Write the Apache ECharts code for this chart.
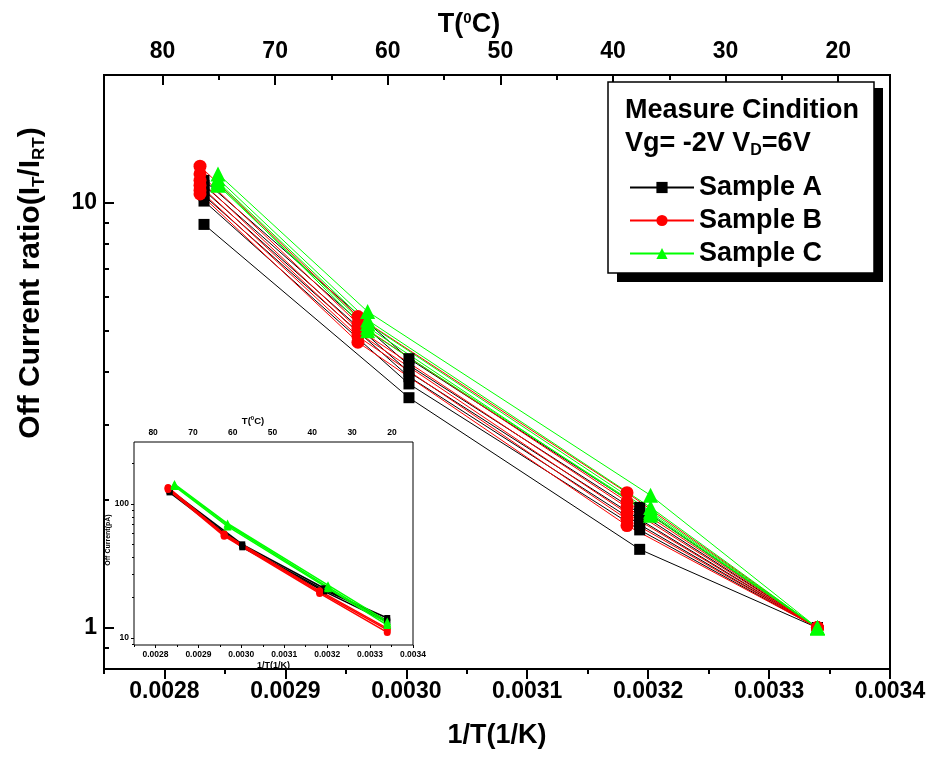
<!DOCTYPE html>
<html><head><meta charset="utf-8">
<script src="https://cdn.jsdelivr.net/npm/echarts@6/dist/echarts.min.js"></script>
<style>html,body{margin:0;padding:0;background:#fff}#c{width:927px;height:760px}</style>
</head><body><div id="c"></div>
<script>
// ---------- DATA ----------
// 1/T positions (1/K) of the measurement points for each sample
const xA = [0.0028327, 0.0030022, 0.003193, 0.00334];
const xB = [0.0028294, 0.002960, 0.0031825, 0.00334];
const xC = [0.0028443, 0.002968, 0.003202, 0.00334];

// Off current ratio I_T/I_RT, one row per measured device (main chart)
const sampleA = [
  [8.9, 3.48, 1.53, 1],
  [10.1, 3.75, 1.70, 1],
  [10.4, 3.90, 1.75, 1],
  [10.7, 4.00, 1.80, 1],
  [11.0, 4.15, 1.86, 1],
  [11.3, 4.30, 1.92, 1]
];
const sampleB = [
  [12.2, 5.40, 2.08, 1],
  [11.7, 5.20, 1.98, 1],
  [11.3, 5.05, 1.92, 1],
  [11.0, 4.95, 1.86, 1],
  [10.7, 4.85, 1.80, 1],
  [10.5, 4.70, 1.74, 1]
];
const sampleC = [
  [11.7, 5.55, 2.05, 1],
  [11.4, 5.30, 1.92, 1],
  [11.2, 5.20, 1.88, 1],
  [11.0, 5.10, 1.84, 1],
  [11.1, 5.00, 1.86, 1]
];

// Inset: off current (pA)
const insetA = [[125, 48.6, 22.8, 14.1], [128, 50.0, 23.5, 13.5], [122, 47.5, 22.3, 13.2]];
const insetB = [[131, 58.7, 22.0, 11.5], [128, 57.5, 21.5, 11.0], [133, 60.0, 22.5, 11.8]];
const insetC = [[139, 70.0, 24.0, 12.9], [136, 68.0, 23.5, 12.5], [141, 71.5, 24.8, 13.3]];

// Tick values
const xTicks = [0.0028, 0.0029, 0.0030, 0.0031, 0.0032, 0.0033, 0.0034];
const xMinor = [0.00275, 0.00285, 0.00295, 0.00305, 0.00315, 0.00325, 0.00335];
const tTicks = [80, 70, 60, 50, 40, 30, 20];
const tMinor = [75, 65, 55, 45, 35, 25];
const yTicks = [1, 10];
const yMinor = [0.9, 2, 3, 4, 5, 6, 7, 8, 9];
const insetYTicks = [10, 100];
const insetYMinor = [9, 20, 30, 40, 50, 60, 70, 80, 90, 200];

// ---------- STYLE ----------
const FONT = '"Liberation Sans", Arial, Helvetica, sans-serif';
const BLK = '#000';
const cA = '#000000', cB = '#ff0000', cC = '#00ff00';

function lbl(size) {
  return { fontSize: size, fontWeight: 'bold', fontFamily: FONT, color: BLK };
}

function mkSeries(name, xs, rows, color, symbol, size, xi, yi, lw) {
  return rows.map(r => ({
    type: 'line', name: name, xAxisIndex: xi, yAxisIndex: yi,
    data: xs.map((x, i) => [x, r[i]]),
    symbol: symbol, symbolSize: size, showSymbol: true,
    lineStyle: { color: color, width: lw },
    itemStyle: { color: color, borderWidth: 0 },
    emphasis: { disabled: true },
    animation: false, silent: true
  }));
}

const series = [].concat(
  mkSeries('Sample A', xA, sampleA, cA, 'rect', 11, 0, 0, 1),
  mkSeries('Sample B', xB, sampleB, cB, 'circle', 13, 0, 0, 1),
  mkSeries('Sample C', xC, sampleC, cC, 'triangle', 15, 0, 0, 1),
  mkSeries('iA', xA, insetA, cA, 'rect', 6, 3, 2, 1.5),
  mkSeries('iB', xB, insetB, cB, 'circle', 7, 3, 2, 1.5),
  mkSeries('iC', xC, insetC, cC, 'triangle', 8, 3, 2, 1.5)
);

const hidden = { axisLine: { show: false }, splitLine: { show: false } };

const option = {
  backgroundColor: '#fff',
  animation: false,
  grid: [
    { left: 104, top: 75, width: 786, height: 594, show: true, borderColor: BLK, borderWidth: 2,
      backgroundColor: 'transparent', containLabel: false, outerBoundsMode: 'none' },
    { left: 134, top: 442, width: 279, height: 203, show: true, borderColor: BLK, borderWidth: 1,
      backgroundColor: '#fff', z: 1, containLabel: false, outerBoundsMode: 'none' }
  ],
  xAxis: [
    // 0 main bottom
    Object.assign({ gridIndex: 0, type: 'value', position: 'bottom', min: 0.00275, max: 0.0034,
      axisTick: { show: true, inside: false, length: 10, customValues: xTicks, lineStyle: { color: BLK, width: 2 } },
      axisLabel: Object.assign({ customValues: xTicks, margin: 11, formatter: v => v.toFixed(4) }, lbl(23)),
      name: '1/T(1/K)', nameLocation: 'middle', nameGap: 53, nameTextStyle: lbl(27) }, hidden),
    // 1 main bottom minor
    Object.assign({ gridIndex: 0, type: 'value', position: 'bottom', min: 0.00275, max: 0.0034,
      axisTick: { show: true, inside: false, length: 5, customValues: xMinor, lineStyle: { color: BLK, width: 2 } },
      axisLabel: { show: false } }, hidden),
    // 2 main top (T)
    Object.assign({ gridIndex: 0, type: 'value', position: 'top', inverse: true, min: 15.4, max: 85.2,
      axisTick: { show: true, inside: true, length: 10, customValues: tTicks, lineStyle: { color: BLK, width: 2 } },
      axisLabel: Object.assign({ customValues: tTicks, margin: 12 }, lbl(23)) }, hidden),
    // 3 inset bottom
    Object.assign({ gridIndex: 1, type: 'value', position: 'bottom', min: 0.00275, max: 0.0034,
      axisTick: { show: true, inside: false, length: 3, customValues: xTicks, lineStyle: { color: BLK, width: 1 } },
      axisLabel: Object.assign({ customValues: xTicks, margin: 5, formatter: v => v.toFixed(4) }, lbl(8.5)),
      name: '1/T(1/K)', nameLocation: 'middle', nameGap: 16, nameTextStyle: lbl(9) }, hidden),
    // 4 inset bottom minor
    Object.assign({ gridIndex: 1, type: 'value', position: 'bottom', min: 0.00275, max: 0.0034,
      axisTick: { show: true, inside: false, length: 2, customValues: xMinor, lineStyle: { color: BLK, width: 1 } },
      axisLabel: { show: false } }, hidden),
    // 5 inset top (T)
    Object.assign({ gridIndex: 1, type: 'value', position: 'top', inverse: true, min: 14.7, max: 84.8,
      axisTick: { show: true, inside: true, length: 3, customValues: tTicks, lineStyle: { color: BLK, width: 1 } },
      axisLabel: Object.assign({ customValues: tTicks, margin: 5 }, lbl(8.5)) }, hidden),
    // 6 inset top minor
    Object.assign({ gridIndex: 1, type: 'value', position: 'top', inverse: true, min: 14.7, max: 84.8,
      axisTick: { show: true, inside: true, length: 2, customValues: tMinor, lineStyle: { color: BLK, width: 1 } },
      axisLabel: { show: false } }, hidden),
    // 7 main top minor
    Object.assign({ gridIndex: 0, type: 'value', position: 'top', inverse: true, min: 15.4, max: 85.2,
      axisTick: { show: true, inside: true, length: 5, customValues: tMinor, lineStyle: { color: BLK, width: 2 } },
      axisLabel: { show: false } }, hidden)
  ],
  yAxis: [
    // 0 main log
    Object.assign({ gridIndex: 0, type: 'log', logBase: 10, position: 'left', min: 0.8, max: 20,
      axisTick: { show: true, inside: true, length: 10, customValues: yTicks, lineStyle: { color: BLK, width: 2 } },
      axisLabel: Object.assign({ customValues: yTicks, margin: 7, formatter: v => String(Math.round(v)) }, lbl(23)) }, hidden),
    // 1 main minor
    Object.assign({ gridIndex: 0, type: 'log', logBase: 10, position: 'left', min: 0.8, max: 20,
      axisTick: { show: true, inside: true, length: 5, customValues: yMinor, lineStyle: { color: BLK, width: 2 } },
      axisLabel: { show: false } }, hidden),
    // 2 inset log
    Object.assign({ gridIndex: 1, type: 'log', logBase: 10, position: 'left', min: 8.87, max: 290,
      axisTick: { show: true, inside: false, length: 3, customValues: insetYTicks, lineStyle: { color: BLK, width: 1 } },
      axisLabel: Object.assign({ customValues: insetYTicks, margin: 5, formatter: v => String(Math.round(v)) }, lbl(8.5)) }, hidden),
    // 3 inset minor
    Object.assign({ gridIndex: 1, type: 'log', logBase: 10, position: 'left', min: 8.87, max: 290,
      axisTick: { show: true, inside: false, length: 2, customValues: insetYMinor, lineStyle: { color: BLK, width: 1 } },
      axisLabel: { show: false } }, hidden)
  ],
  legend: {
    data: ['Sample A', 'Sample B', 'Sample C'],
    orient: 'vertical', left: 624, top: 168,
    itemWidth: 64, itemHeight: 14, itemGap: 4,
    textStyle: { fontSize: 27, fontWeight: 'bold', fontFamily: FONT, color: BLK, lineHeight: 29 },
    selectedMode: false, z: 10
  },
  graphic: [
    { type: 'rect', z: 5, shape: { x: 617, y: 88, width: 266, height: 194 }, style: { fill: '#000' } },
    { type: 'rect', z: 6, shape: { x: 608, y: 82, width: 266, height: 191 }, style: { fill: '#fff', stroke: '#000', lineWidth: 1.5 } },
    { type: 'text', z: 7, x: 625, y: 111, style: { text: 'Measure Cindition', fontSize: 27, fontWeight: 'bold', fontFamily: FONT, fill: BLK, textVerticalAlign: 'middle' } },
    { type: 'text', z: 7, x: 625, y: 144, style: {
      text: 'Vg= -2V V{sub|D}=6V', fontSize: 27, fontWeight: 'bold', fontFamily: FONT, fill: BLK, textVerticalAlign: 'middle',
      rich: { sub: { fontSize: 16, fontWeight: 'bold', fontFamily: FONT, fill: BLK, padding: [14, 0, 0, 0] } } } },
    // main top title
    { type: 'text', z: 7, x: 469, y: 25, style: {
      text: 'T({sup|0}C)', fontSize: 27, fontWeight: 'bold', fontFamily: FONT, fill: BLK, textAlign: 'center', textVerticalAlign: 'middle',
      rich: { sup: { fontSize: 15, fontWeight: 'bold', fontFamily: FONT, fill: BLK, padding: [0, 0, 13, 0] } } } },
    // main y title
    { type: 'text', z: 7, x: 31, y: 283, rotation: Math.PI / 2, style: {
      text: 'Off Current ratio(I{sub|T}/I{sub|RT})', fontSize: 30, fontWeight: 'bold', fontFamily: FONT, fill: BLK, textAlign: 'center', textVerticalAlign: 'middle',
      rich: { sub: { fontSize: 17, fontWeight: 'bold', fontFamily: FONT, fill: BLK, padding: [16, 0, 0, 0] } } } },
    // inset top title
    { type: 'text', z: 7, x: 253, y: 421, style: {
      text: 'T({sup|0}C)', fontSize: 9.5, fontWeight: 'bold', fontFamily: FONT, fill: BLK, textAlign: 'center', textVerticalAlign: 'middle',
      rich: { sup: { fontSize: 6, fontWeight: 'bold', fontFamily: FONT, fill: BLK, padding: [0, 0, 5, 0] } } } },
    // inset y title
    { type: 'text', z: 7, x: 108, y: 540, rotation: Math.PI / 2, style: {
      text: 'Off Current(pA)', fontSize: 7, fontWeight: 'bold', fontFamily: FONT, fill: BLK, textAlign: 'center', textVerticalAlign: 'middle' } }
  ],
  series: series
};

const chart = echarts.init(document.getElementById('c'), null, { renderer: 'canvas' });
chart.setOption(option);
</script>
</body></html>
